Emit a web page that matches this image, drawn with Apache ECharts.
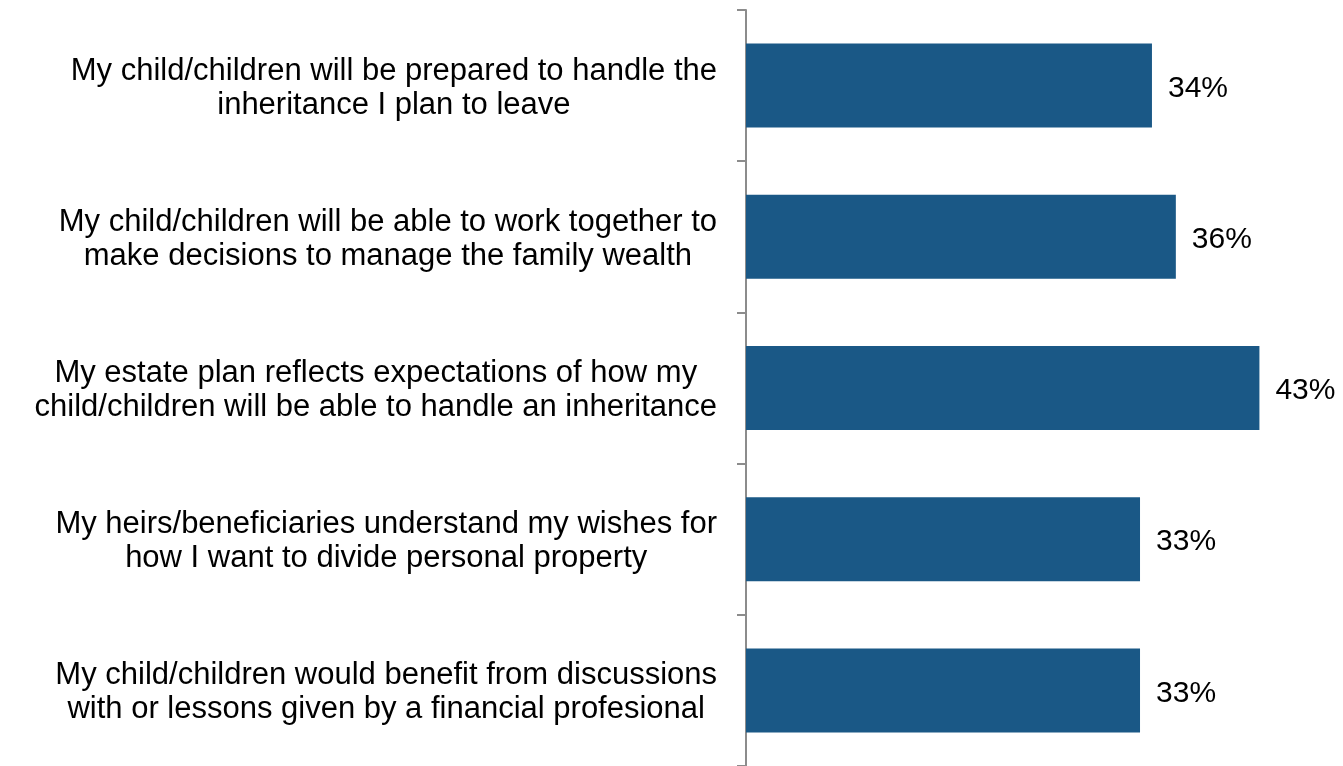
<!DOCTYPE html>
<html>
<head>
<meta charset="utf-8">
<title>Inheritance expectations</title>
<script src="https://cdn.jsdelivr.net/npm/echarts@6/dist/echarts.min.js"></script>
<style>
  html, body { margin: 0; padding: 0; background: #fff; }
  #main { width: 1343px; height: 766px; }
</style>
</head>
<body>
<div id="main"></div>
<script>
// categories (top to bottom)
var categories = [
  'My child/children will be prepared to handle the\ninheritance I plan to leave',
  'My child/children will be able to work together to\nmake decisions to manage the family wealth',
  'My estate plan reflects expectations of how my\nchild/children will be able to handle an inheritance',
  'My heirs/beneficiaries understand my wishes for\nhow I want to divide personal property',
  'My child/children would benefit from discussions\nwith or lessons given by a financial profesional'
];
// percent agreeing
var values = [34, 36, 43, 33, 33];

var chart = echarts.init(document.getElementById('main'));
chart.setOption({
  animation: false,
  grid: { left: 746, top: 10, width: 597, height: 760 },
  xAxis: {
    type: 'value', min: 0, max: 50,
    show: false
  },
  yAxis: {
    type: 'category',
    data: categories,
    inverse: true,
    axisLine: { show: true, lineStyle: { color: '#8c8c8c', width: 2 } },
    axisTick: { show: true, length: 9, lineStyle: { color: '#8c8c8c', width: 2 } },
    axisLabel: {
      margin: 29,
      color: '#000',
      padding: [5, 0, 0, 0],
      formatter: function (v) {
        return v.split('\n').map(function (s) { return '{c|' + s + '}'; }).join('\n');
      },
      rich: {
        c: {
          align: 'center',
          fontFamily: 'Liberation Sans, Arial, sans-serif',
          fontSize: 31,
          lineHeight: 34,
          color: '#000'
        }
      }
    }
  },
  series: [{
    type: 'bar',
    data: values,
    barWidth: 84,
    itemStyle: { color: '#1a5886' },
    label: {
      show: true,
      position: 'right',
      distance: 16,
      offset: [0, 3],
      formatter: '{c}%',
      fontFamily: 'Liberation Sans, Arial, sans-serif',
      fontSize: 30,
      color: '#000'
    }
  }]
});
</script>
</body>
</html>
